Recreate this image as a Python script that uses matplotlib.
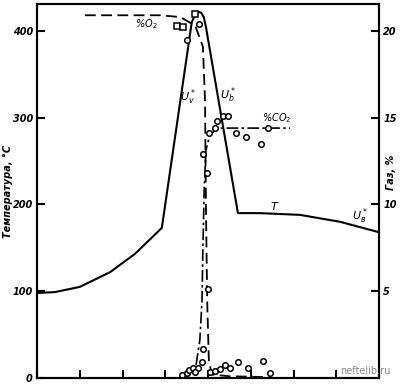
import matplotlib
matplotlib.use("Agg")
import matplotlib.pyplot as plt

# Положение вдоль слоя (условные единицы, без подписей)
x_T = [0.0, 0.42, 1.0, 1.71, 2.29, 2.92, 3.62, 3.70, 3.77, 3.84, 3.90, 3.95, 4.70, 5.22, 6.15, 7.09, 8.0]
T = [98, 99, 105, 122, 143, 173, 410, 419, 422, 421, 416, 405, 190, 190, 188, 180, 168]

# Кислород, %
x_O2 = [1.12, 2.87, 3.35, 3.70, 3.88, 3.93, 3.95, 3.98, 4.02, 4.09, 4.50, 5.45]
O2 = [20.9, 20.9, 20.8, 20.3, 19.1, 16.0, 10.2, 4.5, 1.0, 0.2, 0.1, 0.05]

# Углекислый газ, %
x_CO2 = [3.35, 3.58, 3.72, 3.81, 3.86, 3.88, 3.91, 3.95, 4.04, 4.23, 4.75, 5.92]
CO2 = [0.05, 0.3, 0.75, 2.2, 4.5, 7.4, 10.8, 13.1, 14.0, 14.4, 14.4, 14.4]

# Экспериментальные точки (газ, %)
pts_x = [4.35, 4.47, 4.21, 4.16, 4.02, 5.40, 4.65, 4.89, 5.24,
         3.88, 3.98, 4.00, 3.88, 3.86, 3.51, 3.79,
         3.39, 3.51, 3.56, 3.65, 3.77, 3.70,
         4.05, 4.16, 4.28, 4.40, 4.51, 4.70, 4.94, 5.29, 5.45]
pts_y = [15.1, 15.1, 14.8, 14.4, 14.1, 14.4, 14.1, 13.9, 13.5,
         12.9, 11.8, 5.1, 1.7, 0.9, 19.5, 20.4,
         0.2, 0.3, 0.45, 0.6, 0.6, 0.35,
         0.35, 0.4, 0.5, 0.75, 0.6, 0.9, 0.6, 1.0, 0.3]
sq_x = [3.27, 3.42, 3.70]
sq_y = [20.3, 20.2, 21.0]

fig = plt.figure(figsize=(4.05, 3.84), dpi=100)
ax = fig.add_axes([0.0914, 0.0156, 0.8444, 0.974])
ax2 = ax.twinx()

ax.plot(x_T, T, color="black", lw=1.5)
ax2.plot(x_O2, O2, color="black", lw=1.3, ls=(0, (6, 3)))
ax2.plot(x_CO2, CO2, color="black", lw=1.2, ls=(0, (7, 2, 1.5, 2)))
ax2.plot(pts_x, pts_y, "o", ms=4, mfc="white", mec="black", mew=1.1)
ax2.plot(sq_x, sq_y, "s", ms=4, mfc="white", mec="black", mew=1.1)

ax.set_xlim(0, 8)
ax.set_ylim(0, 431)
ax2.set_ylim(0, 431 / 20)

ax.set_xticks(range(9))
ax.set_xticklabels([])
ax.set_yticks([0, 100, 200, 300, 400])
ax.set_yticklabels(["0", "100", "200", "300", "400"], fontsize=7,
                   style="italic", fontweight="bold")
ax2.set_yticks([5, 10, 15, 20])
ax2.set_yticklabels(["5", "10", "15", "20"], fontsize=7,
                    style="italic", fontweight="bold")
ax.tick_params(direction="in", length=6, width=1.5, pad=3)
ax2.tick_params(direction="in", length=6, width=1.5, pad=3)
for a in (ax, ax2):
    for s in a.spines.values():
        s.set_linewidth(1.5)

fig.text(0.02, 0.5, "Температура, °С", rotation=90, fontsize=7,
         style="italic", fontweight="bold", ha="center", va="center")
fig.text(0.965, 0.55, "Газ, %", rotation=90, fontsize=7,
         style="italic", fontweight="bold", ha="center", va="center")

ax2.text(2.29, 20.4, "%O$_2$", fontsize=7, style="italic", ha="left", va="center")
ax2.text(3.35, 16.2, "$U_v^*$", fontsize=8, ha="left", va="center")
ax2.text(4.28, 16.3, "$U_b^*$", fontsize=8, ha="left", va="center")
ax2.text(5.26, 15.0, "%CO$_2$", fontsize=7, style="italic", ha="left", va="center")
ax2.text(5.45, 9.9, "$T$", fontsize=8, ha="left", va="center")
ax2.text(7.37, 9.3, "$U_в^*$", fontsize=8, ha="left", va="center")

fig.text(0.965, 0.02, "neftelib.ru", fontsize=7, color="#888888",
         ha="right", va="bottom")

fig.savefig("out.png", dpi=100)
